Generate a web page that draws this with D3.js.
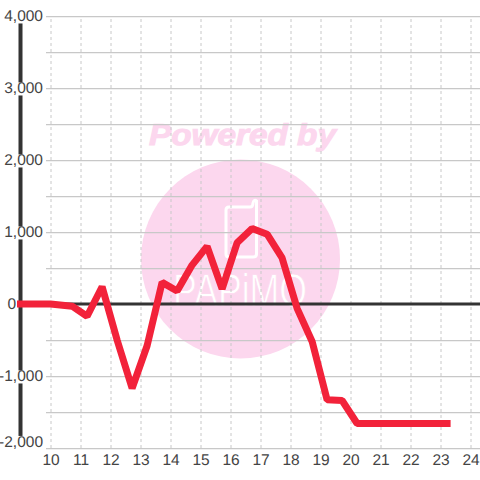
<!DOCTYPE html>
<html>
<head>
<meta charset="utf-8">
<script src="https://cdn.jsdelivr.net/npm/d3@7"></script>
<style>
    html, body { margin: 0; padding: 0; background: #fff; }
    svg { display: block; }
    text { font-family: "Liberation Sans", sans-serif; text-rendering: geometricPrecision; }
</style>
</head>
<body>
<div id="chart"></div>
<script>
// values
const hours = [9, 10, 10.72, 11.22, 11.72, 12.22, 12.72, 13.22, 13.72, 14.22, 14.72, 15.22, 15.72, 16.22, 16.72, 17.22, 17.72, 18.22, 18.72, 19.22, 19.72, 20.22, 20.72, 21.22, 21.72, 22.22, 22.72, 23.22];
const amounts = [0, 0, -30, -170, 240, -500, -1170, -580, 300, 180, 540, 800, 210, 850, 1050, 970, 640, -60, -520, -1330, -1340, -1660, -1660, -1660, -1660, -1660, -1660, -1660];
const xTicks = [10, 11, 12, 13, 14, 15, 16, 17, 18, 19, 20, 21, 22, 23, 24];
const yTicks = [4000, 3000, 2000, 1000, 0, -1000, -2000];
const yTickLabels = ["4,000", "3,000", "2,000", "1,000", "0", "-1,000", "-2,000"];
const yGrid = [4000, 3500, 3000, 2500, 2000, 1500, 1000, 500, -500, -1000, -1500, -2000];

const width = 480, height = 480;

const svg = d3.select("#chart").append("svg")
    .attr("width", width)
    .attr("height", height);

const x = d3.scaleLinear().domain([10, 24]).range([50.5, 470.5]);
const y = d3.scaleLinear().domain([-2000, 4000]).range([448, 16]);

// watermark sits under the grid
const mark = svg.append("g");
mark.append("text")
    .attr("x", 149)
    .attr("y", 145)
    .attr("textLength", 187)
    .attr("lengthAdjust", "spacingAndGlyphs")
    .attr("font-size", 30)
    .attr("font-weight", "bold")
    .attr("font-style", "italic")
    .attr("fill", "#fcd7ee")
    .attr("stroke", "#fcd7ee")
    .attr("stroke-width", 1)
    .text("Powered by");
mark.append("circle")
    .attr("cx", 240.5)
    .attr("cy", 259)
    .attr("r", 99.5)
    .attr("fill", "#fcd7ee");
mark.append("path")
    .attr("d", "M229 207 H250 Q253 207 253 203 Q254 199 256.5 201 V254 Q256.5 257 253 257 H229 Q226 257 226 254 V210 Q226 207 229 207 Z")
    .attr("fill", "none")
    .attr("stroke", "#fff")
    .attr("stroke-width", 3);
mark.append("text")
    .attr("x", 173)
    .attr("y", 306)
    .attr("textLength", 134)
    .attr("lengthAdjust", "spacingAndGlyphs")
    .attr("font-size", 46)
    .attr("fill", "#fff")
    .attr("stroke", "#fcd7ee")
    .attr("stroke-width", 0.8)
    .text("PAPiMO");

// horizontal grid
svg.append("g")
    .attr("transform", "translate(46,0)")
    .call(d3.axisLeft(y).tickValues(yGrid).tickSize(-434).tickFormat(""))
    .call(g => g.select(".domain").remove())
    .call(g => g.selectAll("line").attr("stroke", "#c8c8c8").attr("stroke-width", 1.25));

// vertical dotted grid
svg.append("g")
    .attr("transform", "translate(0,448)")
    .call(d3.axisBottom(x).tickValues(xTicks).tickSize(-432).tickFormat(""))
    .call(g => g.select(".domain").remove())
    .call(g => g.selectAll("line").attr("stroke", "#c8c8c8").attr("stroke-dasharray", "3,3"));

// zero line
svg.append("line")
    .attr("x1", 20)
    .attr("x2", 480)
    .attr("y1", y(0))
    .attr("y2", y(0))
    .attr("stroke", "#333")
    .attr("stroke-width", 3);

// left axis, labels knock out the axis line behind them
const yAxis = svg.append("g")
    .attr("transform", "translate(20,0)")
    .call(d3.axisLeft(y).tickValues(yTicks).tickSize(0).tickPadding(-23).tickFormat((d, i) => yTickLabels[i]));
yAxis.select(".domain").attr("stroke", "#333").attr("stroke-width", 4);
yAxis.selectAll("text")
    .attr("font-size", 15.5)
    .attr("font-family", "Liberation Sans")
    .attr("fill", "#444");
yAxis.selectAll(".tick").filter(d => d === -2000).select("text").attr("dy", "-0.1em");
// the zero label sits left of the axis line
yAxis.selectAll(".tick").filter(d => d === 0).select("text").attr("x", -4);
yAxis.selectAll(".tick").filter(d => d !== 0).each(function (d) {
    const label = d3.select(this).select("text");
    const box = label.node().getBBox();
    d3.select(this).insert("rect", "text")
        .attr("x", box.x)
        .attr("y", box.y + 2)
        .attr("width", box.width)
        .attr("height", box.height - (d === -2000 ? 2 : 4))
        .attr("fill", "#fff");
});

// bottom labels
const xAxis = svg.append("g")
    .attr("transform", "translate(0,448)")
    .call(d3.axisBottom(x).tickValues(xTicks).tickSize(0).tickPadding(6));
xAxis.select(".domain").remove();
xAxis.selectAll("text")
    .attr("font-size", 15.5)
    .attr("font-family", "Liberation Sans")
    .attr("fill", "#444");

// series
const line = d3.line()
    .x((d, i) => x(hours[i]))
    .y(d => y(d));

svg.append("path")
    .datum(amounts)
    .attr("d", line)
    .attr("fill", "none")
    .attr("stroke", "#f2223a")
    .attr("stroke-width", 7)
    .attr("stroke-linecap", "square")
    .attr("stroke-linejoin", "bevel");
</script>
</body>
</html>
